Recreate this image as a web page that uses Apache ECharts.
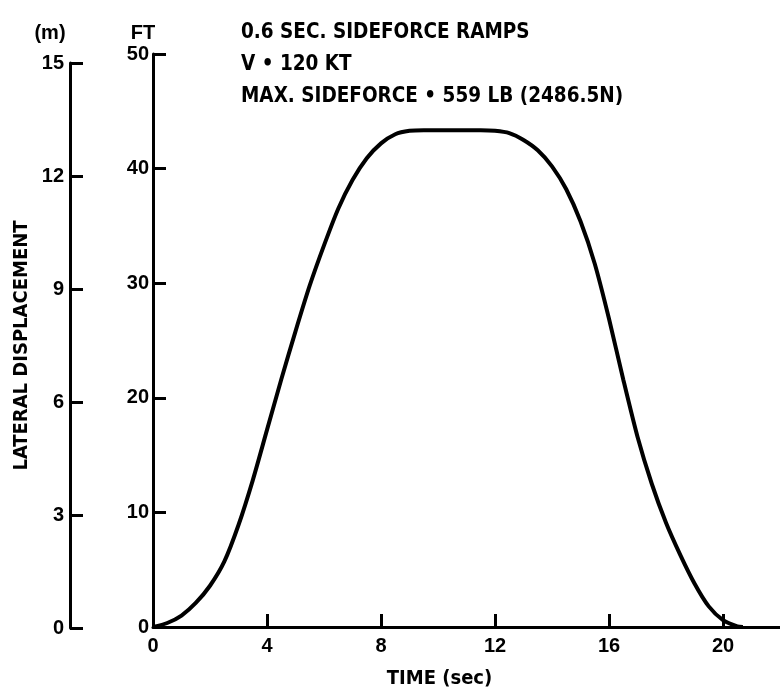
<!DOCTYPE html>
<html>
<head>
<meta charset="utf-8">
<script src="https://cdn.jsdelivr.net/npm/echarts@6/dist/echarts.min.js"></script>
<style>
  html, body { margin: 0; padding: 0; background: #fff; }
  #chart { width: 780px; height: 694px; }
</style>
</head>
<body>
<div id="chart"></div>
<script>
// ---- data ----
const timeSec = [0, 0.5, 1.0, 1.5, 2.0, 2.5, 3.0, 3.5, 4.0, 4.5, 5.0, 5.5, 6.0, 6.5, 7.0, 7.5, 8.0, 8.5, 9.0, 9.5, 10.5, 11.5, 12.0, 12.5, 13.0, 13.5, 14.0, 14.5, 15.0, 15.5, 16.0, 16.5, 17.0, 17.5, 18.0, 18.5, 19.0, 19.5, 20.0, 20.5, 20.7];
const displacementFt = [0, 0.35, 1.0, 2.1, 3.6, 5.7, 8.9, 12.8, 17.2, 21.6, 25.8, 29.8, 33.3, 36.5, 39.0, 40.9, 42.2, 43.0, 43.3, 43.35, 43.35, 43.35, 43.3, 43.1, 42.5, 41.6, 40.2, 38.2, 35.4, 31.7, 26.9, 21.6, 16.6, 12.5, 9.1, 6.3, 3.8, 1.8, 0.6, 0.05, 0];
const xTicks = [0, 4, 8, 12, 16, 20];
const ftTicks = [0, 10, 20, 30, 40, 50];
const mTicks = [0, 3, 6, 9, 12, 15];
const annotationLines = ['0.6 SEC. SIDEFORCE RAMPS', 'V \u2022 120 KT', 'MAX. SIDEFORCE \u2022 559 LB (2486.5N)'];
const FT_PER_M = 3.28084;

const NUM_FONT = "'Liberation Sans', Arial, sans-serif";
const TXT_FONT = "'DejaVu Sans Condensed', 'DejaVu Sans', sans-serif";
const black = '#000';

const chart = echarts.init(document.getElementById('chart'), null, { renderer: 'canvas' });

// pixel geometry of main plot
const plotLeft = 153, plotTop = 54, plotBottom = 628;
const plotH = plotBottom - plotTop;
const pxPerFt = plotH / ftTicks[ftTicks.length - 1];
const mAxisTop = plotBottom - mTicks[mTicks.length - 1] * FT_PER_M * pxPerFt;

const lineStyle = { color: black, width: 3 };
const tickStyle = { show: true, inside: true, length: 13, lineStyle: { color: black, width: 3 } };
const labelStyle = { color: black, fontFamily: NUM_FONT, fontWeight: 'bold', fontSize: 20 };

const option = {
  backgroundColor: '#fff',
  animation: false,
  grid: [
    { left: plotLeft, top: plotTop, width: 22 * 28.93, height: plotH, containLabel: false },
    { left: 70, top: mAxisTop, width: 1, height: plotBottom - mAxisTop, containLabel: false }
  ],
  xAxis: [
    {
      type: 'value', gridIndex: 0, min: 0, max: 22, interval: 4,
      axisLine: { show: true, lineStyle: lineStyle },
      axisTick: tickStyle,
      splitLine: { show: false },
      axisLabel: Object.assign({ margin: 9, showMaxLabel: false,
        formatter: v => xTicks.includes(v) ? String(v) : '' }, labelStyle),
      name: 'TIME (sec)', nameLocation: 'middle', nameGap: 42,
      nameTextStyle: { color: black, fontFamily: TXT_FONT, fontWeight: 'bold', fontSize: 20, padding: [0, 54, 0, 0] }
    },
    { type: 'value', gridIndex: 1, min: 0, max: 1, show: false }
  ],
  yAxis: [
    {
      type: 'value', gridIndex: 0, min: 0, max: 50, interval: 10,
      axisLine: { show: true, lineStyle: lineStyle },
      axisTick: tickStyle,
      splitLine: { show: false },
      axisLabel: Object.assign({ margin: 4, formatter: v => ftTicks.includes(v) ? String(v) : '' }, labelStyle)
    },
    {
      type: 'value', gridIndex: 1, min: 0, max: 15, interval: 3,
      axisLine: { show: true, lineStyle: lineStyle },
      axisTick: tickStyle,
      splitLine: { show: false },
      axisLabel: Object.assign({ margin: 6, formatter: v => mTicks.includes(v) ? String(v) : '' }, labelStyle),
      name: 'LATERAL DISPLACEMENT', nameLocation: 'middle', nameRotate: 90, nameGap: 38,
      nameTextStyle: { color: black, fontFamily: TXT_FONT, fontWeight: 'bold', fontSize: 20 }
    }
  ],
  graphic: [
    { type: 'text', x: 50, y: 33, style: { text: '(m)', fill: black, font: "bold 20px " + NUM_FONT, textAlign: 'center', textVerticalAlign: 'middle' } },
    { type: 'text', x: 143, y: 33, style: { text: 'FT', fill: black, font: "bold 20px " + NUM_FONT, textAlign: 'center', textVerticalAlign: 'middle' } },
    { type: 'text', left: 241, top: 22, style: { text: annotationLines[0], fill: black, font: "bold 20.5px " + TXT_FONT } },
    { type: 'text', left: 241, top: 54, style: { text: annotationLines[1], fill: black, font: "bold 20.5px " + TXT_FONT } },
    { type: 'text', left: 241, top: 86, style: { text: annotationLines[2], fill: black, font: "bold 20.5px " + TXT_FONT } }
  ],
  series: [
    {
      type: 'line', xAxisIndex: 0, yAxisIndex: 0,
      data: timeSec.map((t, i) => [t, displacementFt[i]]),
      smooth: 0.25, showSymbol: false, symbol: 'none',
      lineStyle: { color: black, width: 4 },
      clip: false
    }
  ]
};
chart.setOption(option);
</script>
</body>
</html>
